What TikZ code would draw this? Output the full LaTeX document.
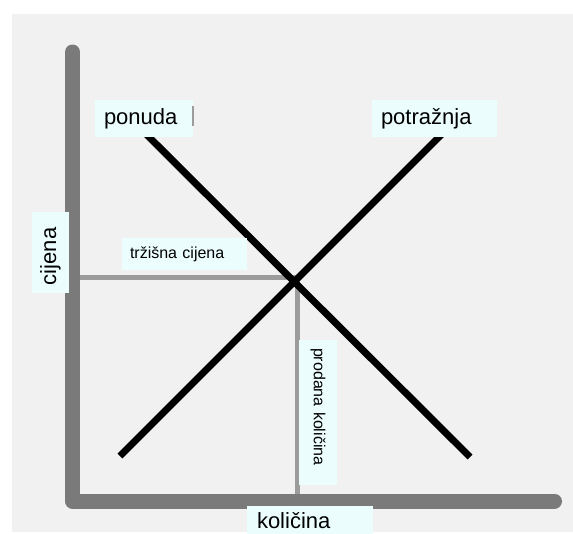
\documentclass[tikz,border=0pt]{standalone}
\usepackage{fontspec}
\setmainfont{Liberation Sans}
\definecolor{bggrey}{HTML}{F1F1F1}
\definecolor{axisgrey}{HTML}{7A7A7A}
\definecolor{helpgrey}{HTML}{9C9C9C}
\definecolor{boxcyan}{HTML}{ECFDFD}
\tikzset{
  axisline/.style={draw=axisgrey, line width=15pt, line cap=round, line join=round},
  curveline/.style={draw=black, line width=7pt},
  helpline/.style={draw=helpgrey, line width=5pt},
  lbl/.style={fill=boxcyan, inner ysep=0pt, align=left, anchor=center},
  big/.style={font=\fontsize{22}{26}\selectfont},
  small/.style={font=\fontsize{16}{19}\selectfont},
}
\begin{document}
\begin{tikzpicture}[x=1pt,y=-1pt]
\useasboundingbox (0,0) rectangle (573,533);
\fill[white] (0,0) rectangle (573,533);
\fill[bggrey] (12,14) rectangle (573,532);
% axes
\coordinate (Ytop) at (72.5,52);
\coordinate (O) at (72.5,501);
\coordinate (Xend) at (554.5,501);
% helper lines
\coordinate (P) at (80,277);
\coordinate (Pe) at (296,277);
\coordinate (Qe) at (297,277);
\coordinate (Q) at (297,494);
\draw[helpline] (P) -- (Pe);
\draw[helpline] (Qe) -- (Q);
\draw[axisline] (Ytop) -- (O) -- (Xend);
% supply and demand
\coordinate (S1) at (140,128);
\coordinate (S2) at (470,457);
\coordinate (D1) at (120,456);
\coordinate (D2) at (448,128);
\draw[curveline] (S1) -- (S2);
\draw[curveline] (D1) -- (D2);
% labels
\node[lbl, big, text width=80pt, inner xsep=9pt, minimum height=37pt] (ponuda) at (144,118.5) {ponuda};
\draw[draw=helpgrey, line width=1.5pt] (ponuda.north east) ++(0,6) coordinate (m1) -- ++(0,20) coordinate (m2);
\node[lbl, big, text width=107pt, inner xsep=9pt, minimum height=37pt] (potraznja) at (434.5,118.5) {potražnja};
\node[lbl, small, text width=109pt, inner xsep=8pt, minimum height=32pt] (cijenaT) at (184.5,254) {tržišna cijena};
\node[lbl, big, text width=65pt, inner xsep=8pt, minimum height=37pt, rotate=90] (cijena) at (50.5,252.5) {cijena};
\node[lbl, small, text width=129pt, inner xsep=8pt, minimum height=38pt, rotate=-90] (prodana) at (318,412.5) {prodana količina};
\node[lbl, big, text width=106pt, inner xsep=10pt, minimum height=30pt] (kolicina) at (310,521) {količina};
\end{tikzpicture}
\end{document}
